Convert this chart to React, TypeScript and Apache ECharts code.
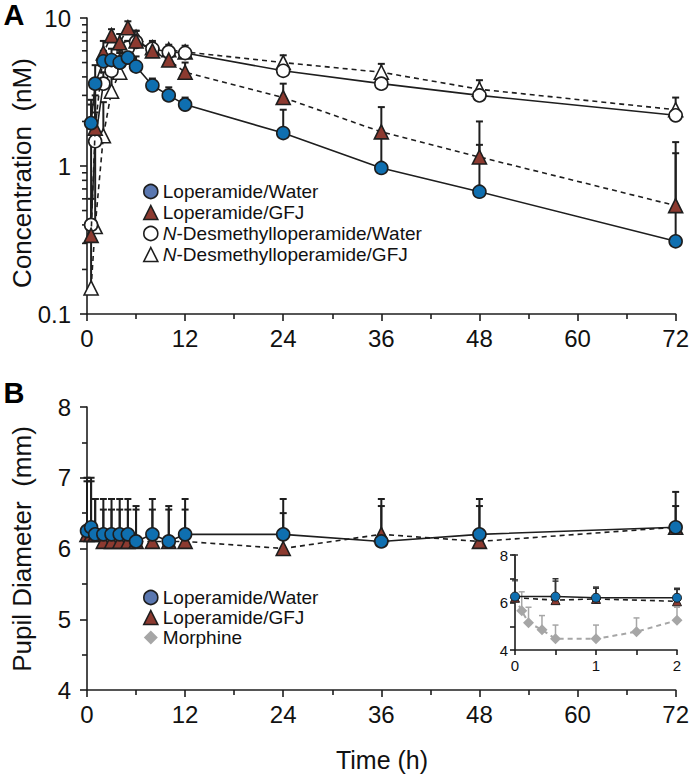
import React, { useEffect, useRef } from "react";
import * as echarts from "echarts";

// ---------- Panel A data ----------
const timesA = [0.5, 1, 2, 3, 4, 5, 6, 8, 10, 12, 24, 36, 48, 72];
const loWaterA = [1.95, 3.6, 5.1, 5.2, 5.0, 5.4, 4.7, 3.5, 3.0, 2.6, 1.67, 0.97, 0.67, 0.31];
const loWaterAErr = [2.8, 4.8, 6.0, 6.2, 6.0, 6.3, 5.5, 3.9, 3.4, 2.9, 2.4, 1.6, 1.39, 1.22];
const loGfjA = [0.34, 1.8, 5.8, 7.6, 6.8, 8.6, 7.0, 6.0, 5.2, 4.3, 2.9, 1.7, 1.15, 0.54];
const loGfjAErr = [0.6, 3.0, 7.0, 8.4, 7.8, 9.5, 8.2, 6.8, 6.0, 5.0, 3.6, 2.5, 2.0, 1.45];
const dmWaterA = [0.4, 1.47, 3.6, 4.4, 5.0, 6.3, 6.9, 6.2, 5.9, 5.8, 4.4, 3.6, 3.0, 2.2];
const dmWaterAErr = [2.6, 3.4, 4.3, 5.2, 5.8, 7.0, 7.6, 6.8, 6.3, 6.2, 4.9, 4.0, 3.3, 2.4];
const dmGfjA = [0.15, 0.39, 1.6, 3.2, 4.3, 6.0, 7.4, 6.3, 6.1, 5.9, 5.0, 4.3, 3.3, 2.4];
const dmGfjAErr = [0.4, 2.3, 2.7, 4.2, 5.2, 7.0, 8.2, 7.0, 6.6, 6.5, 5.6, 4.9, 3.8, 2.9];
const logMinorTicks = [0.2, 0.3, 0.4, 0.5, 0.6, 0.7, 0.8, 0.9, 2, 3, 4, 5, 6, 7, 8, 9];

// ---------- Panel B data ----------
const timesB = [0, 0.5, 1, 2, 3, 4, 5, 6, 8, 10, 12, 24, 36, 48, 72];
const loWaterB = [6.25, 6.3, 6.2, 6.2, 6.2, 6.2, 6.2, 6.1, 6.2, 6.1, 6.2, 6.2, 6.1, 6.2, 6.3];
const loWaterBErr = [7.0, 7.0, 6.7, 6.7, 6.7, 6.7, 6.7, 6.6, 6.7, 6.6, 6.7, 6.7, 6.7, 6.7, 6.8];
const loGfjB = [6.2, 6.2, 6.2, 6.1, 6.1, 6.1, 6.1, 6.1, 6.1, 6.1, 6.1, 6.0, 6.2, 6.1, 6.3];
const loGfjBErr = [6.95, 6.95, 6.7, 6.55, 6.55, 6.55, 6.55, 6.55, 6.55, 6.55, 6.55, 6.5, 6.6, 6.6, 6.6];

// ---------- Inset data ----------
const timesInset = [0, 0.5, 1, 2];
const loWaterInset = [6.25, 6.25, 6.2, 6.2];
const loWaterInsetErr = [8.0, 7.0, 6.65, 6.6];
const loGfjInset = [6.2, 6.1, 6.15, 6.05];
const loGfjInsetErr = [6.95, 6.9, 6.6, 6.55];
const timesMorphine = [0, 0.083, 0.167, 0.333, 0.5, 1, 1.5, 2];
const morphine = [6.2, 5.65, 5.15, 4.85, 4.47, 4.47, 4.77, 5.25];
const morphineErr = [6.9, 6.45, 5.8, 5.45, 5.05, 5.05, 5.35, 5.8];

const FONT = "Liberation Sans, Arial, sans-serif";
const BLUE = "#0f6fb0";
const BROWN = "#8c3a30";
const GRAY = "#a6a6a6";
const INK = "#1e1e1e";

const pairs = (xs: number[], ys: number[]) => xs.map((x, i) => [x, ys[i]]);
const triples = (xs: number[], ys: number[], tops: number[]) => xs.map((x, i) => [x, ys[i], tops[i]]);

function errRender(cap: number, color: string, width: number) {
  return (params: any, api: any) => {
    const x = api.value(0);
    const y = api.value(1);
    const t = api.value(2);
    const p0 = api.coord([x, y]);
    const p1 = api.coord([x, t]);
    return {
      type: "group",
      children: [
        { type: "line", shape: { x1: p0[0], y1: p0[1], x2: p1[0], y2: p1[1] }, style: { stroke: color, lineWidth: width } },
        { type: "line", shape: { x1: p1[0] - cap, y1: p1[1], x2: p1[0] + cap, y2: p1[1] }, style: { stroke: color, lineWidth: width } },
      ],
    };
  };
}

function errSeries(name: string, data: number[][], grid: number, cap: number, color = INK, width = 2) {
  return {
    type: "custom",
    name,
    xAxisIndex: grid,
    yAxisIndex: grid,
    data,
    encode: { x: 0, y: 1 },
    renderItem: errRender(cap, color, width),
    z: 1,
    silent: true,
  };
}

function lineSeries(name: string, data: number[][], grid: number, opts: any) {
  return {
    type: "line",
    name,
    xAxisIndex: grid,
    yAxisIndex: grid,
    data,
    symbol: opts.symbol,
    symbolSize: opts.size,
    itemStyle: { color: opts.fill, borderColor: opts.border || INK, borderWidth: opts.bw ?? 1.6 },
    lineStyle: { color: opts.lineColor || INK, width: opts.lw ?? 1.6, type: opts.dashed ? [5, 4] : "solid" },
    z: opts.z ?? 3,
    silent: true,
  };
}

const axisLine = { lineStyle: { color: INK, width: 1.6 } };
const tickStyle = { color: INK, width: 1.6 };

export default function App() {
  const ref = useRef<HTMLDivElement>(null);
  useEffect(() => {
    if (!ref.current) return;
    document.body.style.margin = "0";
    const chart = echarts.init(ref.current, null, { renderer: "svg" });
    const labelStyle = { color: "#111", fontSize: 24, fontFamily: FONT };
    const option: any = {
      animation: false,
      backgroundColor: "#fff",
      grid: [
        { left: 87, top: 18, width: 590, height: 296 },
        { left: 87, top: 407, width: 590, height: 283 },
        { left: 515, top: 555, width: 162, height: 95, z: 10 },
      ],
      xAxis: [
        {
          gridIndex: 0, type: "value", min: 0, max: 72, interval: 12,
          axisLine, axisTick: { length: 7, lineStyle: tickStyle },
          minorTick: { show: true, splitNumber: 2, length: 5, lineStyle: tickStyle },
          splitLine: { show: false }, axisLabel: { ...labelStyle, margin: 12 },
        },
        {
          gridIndex: 1, type: "value", min: 0, max: 72, interval: 12,
          axisLine, axisTick: { length: 7, lineStyle: tickStyle },
          minorTick: { show: true, splitNumber: 2, length: 5, lineStyle: tickStyle },
          splitLine: { show: false }, axisLabel: { ...labelStyle, margin: 12 },
        },
        {
          gridIndex: 2, type: "value", min: 0, max: 2, interval: 0.5,
          axisLine, axisTick: { length: 5, lineStyle: tickStyle },
          splitLine: { show: false },
          axisLabel: { color: "#111", fontSize: 15, fontFamily: FONT, margin: 8, formatter: (v: number) => (v % 1 === 0 ? String(v) : "") },
        },
      ],
      yAxis: [
        {
          gridIndex: 0, type: "log", logBase: 10, min: 0.1, max: 10,
          axisLine: { show: true, ...axisLine }, axisTick: { show: true, length: 7, lineStyle: tickStyle },
          splitLine: { show: false },
          axisLabel: { ...labelStyle, margin: 16, formatter: (v: number) => (v < 1 ? "0.1" : String(Math.round(v))) },
        },
        {
          gridIndex: 1, type: "value", min: 4, max: 8, interval: 1,
          axisLine: { show: true, ...axisLine }, axisTick: { show: true, length: 7, lineStyle: tickStyle },
          minorTick: { show: true, splitNumber: 2, length: 5, lineStyle: tickStyle },
          splitLine: { show: false }, axisLabel: { ...labelStyle, margin: 16 },
        },
        {
          gridIndex: 2, type: "value", min: 4, max: 8, interval: 1,
          axisLine: { show: true, ...axisLine }, axisTick: { show: true, length: 5, lineStyle: tickStyle },
          splitLine: { show: false },
          axisLabel: { color: "#111", fontSize: 15, fontFamily: FONT, margin: 7, formatter: (v: number) => (v % 2 === 0 ? String(v) : "") },
        },
      ],
      legend: [
        {
          orient: "vertical", left: 143, top: 182, itemGap: 2, itemWidth: 14, itemHeight: 14, itemTextGap: 6,
          padding: 0, selectedMode: false,
          textStyle: { fontSize: 19, color: "#111", fontFamily: FONT, rich: { i: { fontStyle: "italic", fontSize: 19, fontFamily: FONT, color: "#111" }, n: { fontSize: 19, fontFamily: FONT, color: "#111" } } },
          formatter: (name: string) => (name.startsWith("N-") ? "{i|N}{n|" + name.slice(1) + "}" : name),
          data: [
            { name: "Loperamide/Water", icon: "circle", itemStyle: { color: "#5a77b0", borderColor: INK, borderWidth: 1.6 } },
            { name: "Loperamide/GFJ", icon: "triangle", itemStyle: { color: BROWN, borderColor: INK, borderWidth: 1.6 } },
            { name: "N-Desmethylloperamide/Water", icon: "circle", itemStyle: { color: "#fff", borderColor: INK, borderWidth: 1.6 } },
            { name: "N-Desmethylloperamide/GFJ", icon: "triangle", itemStyle: { color: "#fff", borderColor: INK, borderWidth: 1.6 } },
          ],
        },
        {
          orient: "vertical", left: 143, top: 588, itemGap: 1, itemWidth: 14, itemHeight: 14, itemTextGap: 6,
          padding: 0, selectedMode: false,
          textStyle: { fontSize: 19, color: "#111", fontFamily: FONT },
          data: [
            { name: "Loperamide/Water", icon: "circle", itemStyle: { color: "#5a77b0", borderColor: INK, borderWidth: 1.6 } },
            { name: "Loperamide/GFJ", icon: "triangle", itemStyle: { color: BROWN, borderColor: INK, borderWidth: 1.6 } },
            { name: "Morphine", icon: "diamond", itemStyle: { color: GRAY, borderColor: GRAY, borderWidth: 0 } },
          ],
        },
      ],
      graphic: [
        { type: "text", x: 14, y: 15, z: 100, style: { text: "A", fontSize: 29, fontWeight: "bold", fontFamily: FONT, fill: "#000", align: "center", verticalAlign: "middle" } },
        { type: "text", x: 14, y: 393, z: 100, style: { text: "B", fontSize: 29, fontWeight: "bold", fontFamily: FONT, fill: "#000", align: "center", verticalAlign: "middle" } },
        { type: "text", x: 22, y: 173, rotation: Math.PI / 2, style: { text: "Concentration  (nM)", fontSize: 26, fontFamily: FONT, fill: "#111", align: "center", verticalAlign: "middle" } },
        { type: "text", x: 22, y: 549, rotation: Math.PI / 2, style: { text: "Pupil Diameter  (mm)", fontSize: 26, fontFamily: FONT, fill: "#111", align: "center", verticalAlign: "middle" } },
        { type: "text", x: 382, y: 760, style: { text: "Time (h)", fontSize: 25, fontFamily: FONT, fill: "#111", align: "center", verticalAlign: "middle" } },
      ],
      series: [
        // log-axis minor ticks (panel A)
        {
          type: "custom", name: "minorTicksA", xAxisIndex: 0, yAxisIndex: 0, silent: true,
          data: logMinorTicks.map((v) => [0, v]), encode: { x: 0, y: 1 },
          renderItem: (params: any, api: any) => {
            const p = api.coord([api.value(0), api.value(1)]);
            return { type: "line", shape: { x1: p[0] - 5, y1: p[1], x2: p[0], y2: p[1] }, style: { stroke: INK, lineWidth: 1.6 } };
          },
        },
        // Panel A error bars
        errSeries("errA1", triples(timesA, loWaterA, loWaterAErr), 0, 3.5),
        errSeries("errA2", triples(timesA, loGfjA, loGfjAErr), 0, 3.5),
        errSeries("errA3", triples(timesA, dmWaterA, dmWaterAErr), 0, 3.5),
        errSeries("errA4", triples(timesA, dmGfjA, dmGfjAErr), 0, 3.5),
        // Panel A series
        lineSeries("N-Desmethylloperamide/GFJ", pairs(timesA, dmGfjA), 0, { symbol: "triangle", size: 14, fill: "#fff", dashed: true, z: 3 }),
        lineSeries("N-Desmethylloperamide/Water", pairs(timesA, dmWaterA), 0, { symbol: "circle", size: 13, fill: "#fff", z: 4 }),
        lineSeries("Loperamide/GFJ", pairs(timesA, loGfjA), 0, { symbol: "triangle", size: 14, fill: BROWN, dashed: true, z: 5 }),
        lineSeries("Loperamide/Water", pairs(timesA, loWaterA), 0, { symbol: "circle", size: 13, fill: BLUE, z: 6 }),
        // Panel B
        errSeries("errB1", triples(timesB, loWaterB, loWaterBErr), 1, 3.5),
        errSeries("errB2", triples(timesB, loGfjB, loGfjBErr), 1, 3.5),
        lineSeries("Loperamide/GFJ", pairs(timesB, loGfjB), 1, { symbol: "triangle", size: 14, fill: BROWN, dashed: true, z: 4 }),
        lineSeries("Loperamide/Water", pairs(timesB, loWaterB), 1, { symbol: "circle", size: 13, fill: BLUE, z: 5 }),
        // Inset
        { ...errSeries("errI3", triples(timesMorphine, morphine, morphineErr), 2, 3, GRAY, 1.5), z: 11 },
        { ...errSeries("errI1", triples(timesInset, loWaterInset, loWaterInsetErr), 2, 3, "#333", 1.5), z: 11 },
        { ...errSeries("errI2", triples(timesInset, loGfjInset, loGfjInsetErr), 2, 3, "#333", 1.5), z: 11 },
        lineSeries("Morphine", pairs(timesMorphine, morphine), 2, { symbol: "diamond", size: 11, fill: GRAY, border: GRAY, bw: 0, lineColor: GRAY, lw: 2, dashed: true, z: 12 }),
        lineSeries("Loperamide/GFJ", pairs(timesInset, loGfjInset), 2, { symbol: "triangle", size: 9, fill: BROWN, dashed: true, z: 13, bw: 1 }),
        lineSeries("Loperamide/Water", pairs(timesInset, loWaterInset), 2, { symbol: "circle", size: 9, fill: BLUE, z: 14, bw: 1 }),
      ],
    };
    chart.setOption(option);
    return () => chart.dispose();
  }, []);
  return <div ref={ref} style={{ width: 692, height: 782 }} />;
}
